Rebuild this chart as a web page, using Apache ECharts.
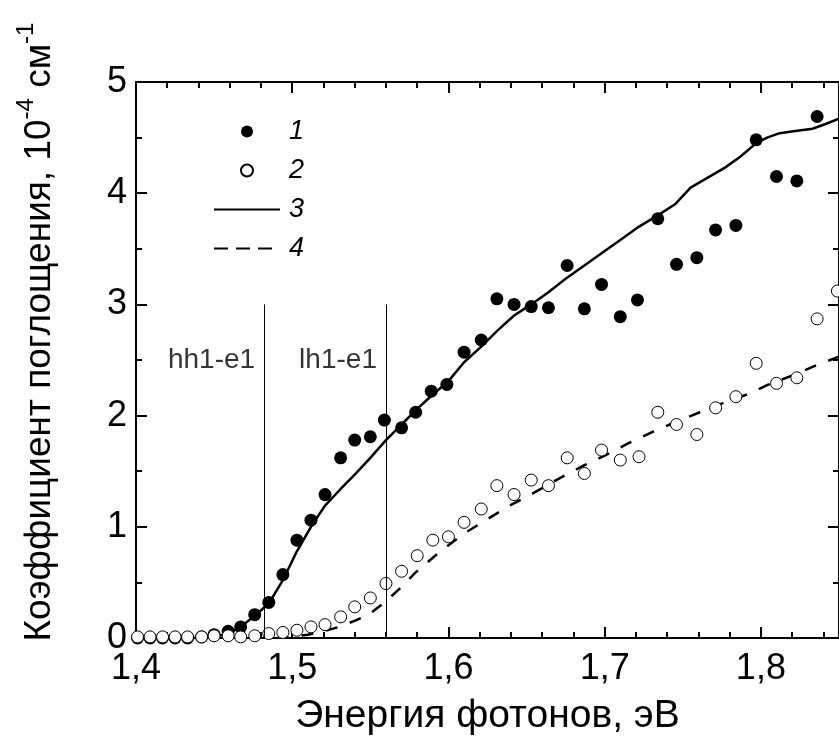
<!DOCTYPE html>
<html><head><meta charset="utf-8">
<script src="https://cdn.jsdelivr.net/npm/echarts@6/dist/echarts.min.js"></script>
<style>html,body{margin:0;padding:0;background:#fff;}#c{width:839px;height:751px;}</style>
</head><body><div id="c"></div>
<script>
// Series 1 (filled circles)
const s1x = [1.401,1.409,1.417,1.425,1.433,1.442,1.450,1.459,1.467,1.476,1.485,1.494,1.503,1.512,1.521,1.531,1.540,1.550,1.559,1.570,1.579,1.589,1.599,1.610,1.621,1.631,1.642,1.653,1.664,1.676,1.687,1.698,1.710,1.721,1.734,1.746,1.759,1.771,1.784,1.797,1.810,1.823,1.836];
const s1y = [0,0,0,0,0,0.01,0.03,0.06,0.10,0.21,0.32,0.57,0.88,1.06,1.29,1.62,1.78,1.81,1.96,1.89,2.03,2.22,2.28,2.57,2.68,3.05,3.00,2.98,2.97,3.35,2.96,3.18,2.89,3.04,3.77,3.36,3.42,3.67,3.71,4.48,4.15,4.11,4.69];
// Series 2 (open circles)
const s2x = [1.401,1.409,1.417,1.425,1.433,1.442,1.450,1.459,1.467,1.476,1.485,1.494,1.503,1.512,1.521,1.531,1.540,1.550,1.560,1.570,1.580,1.590,1.600,1.610,1.621,1.631,1.642,1.653,1.664,1.676,1.687,1.698,1.710,1.722,1.734,1.746,1.759,1.771,1.784,1.797,1.810,1.823,1.836,1.849];
const s2y = [0.01,0.01,0.01,0.01,0.01,0.01,0.02,0.02,0.01,0.02,0.04,0.05,0.07,0.10,0.12,0.19,0.28,0.36,0.49,0.60,0.74,0.88,0.91,1.04,1.16,1.37,1.29,1.42,1.37,1.62,1.48,1.69,1.60,1.63,2.03,1.92,1.83,2.07,2.17,2.47,2.29,2.34,2.87,3.12];
// Curve 3 (solid)
const l3x = [1.40,1.44,1.45,1.459,1.467,1.476,1.485,1.494,1.503,1.512,1.521,1.531,1.540,1.550,1.560,1.570,1.580,1.590,1.600,1.610,1.621,1.631,1.642,1.653,1.664,1.675,1.687,1.698,1.710,1.722,1.735,1.745,1.755,1.766,1.777,1.787,1.797,1.804,1.812,1.822,1.833,1.841,1.85];
const l3y = [0,0,0.01,0.04,0.10,0.20,0.31,0.52,0.78,1.00,1.19,1.34,1.47,1.62,1.78,1.92,2.06,2.19,2.31,2.48,2.62,2.76,2.90,3.00,3.11,3.23,3.35,3.46,3.58,3.70,3.81,3.90,4.05,4.14,4.23,4.33,4.45,4.50,4.54,4.56,4.58,4.62,4.67];
// Curve 4 (dashed)
const l4x = [1.49,1.50,1.51,1.52,1.53,1.541,1.549,1.56,1.57,1.579,1.594,1.61,1.624,1.639,1.654,1.669,1.685,1.70,1.715,1.73,1.745,1.761,1.777,1.791,1.805,1.82,1.835,1.85];
const l4y = [0,0.01,0.03,0.06,0.10,0.16,0.21,0.33,0.46,0.59,0.77,0.94,1.06,1.19,1.30,1.42,1.54,1.64,1.75,1.85,1.94,2.03,2.12,2.19,2.28,2.36,2.45,2.53];
// Legend names
const seriesNames = ['1','2','3','4'];
// Transition markers
const transX = [1.482, 1.56];
const transLabels = ['hh1-e1','lh1-e1'];
const transTop = 3;
const transLabelY = 2.5;
// Axis titles
const xTitle = 'Энергия фотонов, эВ';
const yTitleMain = 'Коэффициент поглощения, 10';

const FF = '"Liberation Sans", Arial, sans-serif';
const zip = (a,b) => a.map((v,i)=>[v,b[i]]);

const chart = echarts.init(document.getElementById('c'), null, {renderer:'canvas'});
const baseX = {type:'value', min:1.4, max:1.85, gridIndex:0, splitLine:{show:false}};
const tickStyle = {color:'#000', width:2};
const noMarker = {color:'rgba(0,0,0,0)', borderWidth:0, borderColor:'rgba(0,0,0,0)'};
chart.setOption({
  animation:false,
  backgroundColor:'#fff',
  grid:{left:136, top:82, width:704, height:556},
  xAxis:[
    Object.assign({}, baseX, {position:'bottom', interval:0.1,
      axisLine:{show:true, lineStyle:{color:'#000', width:2}},
      axisTick:{show:true, inside:true, length:11, lineStyle:tickStyle},
      axisLabel:{show:true, showMaxLabel:false, color:'#000', fontSize:36, fontFamily:FF, margin:13,
        formatter: v => (Math.abs(v*10 - Math.round(v*10))<1e-6) ? v.toFixed(1).replace('.',',') : ''},
      name:xTitle, nameLocation:'middle', nameGap:59,
      nameTextStyle:{color:'#000', fontSize:39, fontFamily:FF}}),
    Object.assign({}, baseX, {position:'bottom', interval:0.02,
      axisLine:{show:false}, axisTick:{show:true, inside:true, length:6, lineStyle:tickStyle}, axisLabel:{show:false}}),
    Object.assign({}, baseX, {position:'top', interval:0.1,
      axisLine:{show:true, lineStyle:{color:'#000', width:2}},
      axisTick:{show:true, inside:true, length:11, lineStyle:tickStyle}, axisLabel:{show:false}}),
    Object.assign({}, baseX, {position:'top', interval:0.02,
      axisLine:{show:false}, axisTick:{show:true, inside:true, length:6, lineStyle:tickStyle}, axisLabel:{show:false}})
  ],
  yAxis:[
    {type:'value', min:0, max:5, interval:1, position:'left', splitLine:{show:false},
      axisLine:{show:true, lineStyle:{color:'#000', width:2}},
      axisTick:{show:true, inside:true, length:11, lineStyle:tickStyle},
      minorTick:{show:true, splitNumber:2, length:6, lineStyle:tickStyle},
      axisLabel:{color:'#000', fontSize:36, fontFamily:FF, margin:9},
      name:'{a|'+yTitleMain+'}{s|-4}{a| см}{s|-1}', nameLocation:'middle', nameRotate:90, nameGap:78,
      nameTextStyle:{padding:[0,0,0,56], rich:{
        a:{fontSize:37, fontFamily:FF, color:'#000', lineHeight:44, verticalAlign:'bottom'},
        s:{fontSize:24, fontFamily:FF, color:'#000', lineHeight:44, verticalAlign:'top'}}}},
    {type:'value', min:0, max:5, interval:1, position:'right', splitLine:{show:false},
      axisLine:{show:true, lineStyle:{color:'#000', width:2}},
      axisTick:{show:true, inside:true, length:11, lineStyle:tickStyle},
      minorTick:{show:true, splitNumber:2, length:6, lineStyle:tickStyle},
      axisLabel:{show:false}}
  ],
  legend:{
    orient:'vertical', left:208, top:113, itemWidth:66, itemHeight:12, itemGap:12,
    textStyle:{color:'#000', fontSize:27, fontStyle:'italic', fontFamily:FF, lineHeight:26, padding:[0,0,0,4]},
    data:[{name:seriesNames[0]},{name:seriesNames[1]},
          {name:seriesNames[2], itemStyle:noMarker},
          {name:seriesNames[3], itemStyle:noMarker, lineStyle:{type:[14,8]}}]
  },
  series:[
    {name:'annot', type:'scatter', symbolSize:0, silent:true, z:1,
      data: transX.map((x,i)=>[x, transLabelY, transLabels[i]]),
      label:{show:true, position:'left', distance:9, color:'#000', fontSize:28, fontFamily:FF,
        formatter: p => p.data[2]},
      markLine:{silent:true, symbol:'none', label:{show:false},
        lineStyle:{color:'#000', width:1, type:'solid'},
        data: transX.map(x=>[{coord:[x,0]},{coord:[x,transTop]}])}},
    {name:seriesNames[2], type:'line', data:zip(l3x,l3y), symbol:'none', smooth:false, z:2,
      lineStyle:{color:'#000', width:2.5}, itemStyle:{color:'#000'}},
    {name:seriesNames[3], type:'line', data:zip(l4x,l4y), symbol:'none', smooth:false, z:2,
      lineStyle:{color:'#000', width:2.5, type:[12,13]}, itemStyle:{color:'#000'}},
    {name:seriesNames[0], type:'scatter', data:zip(s1x,s1y), symbol:'circle', symbolSize:13, z:3,
      itemStyle:{color:'#000', opacity:1}},
    {name:seriesNames[1], type:'scatter', data:zip(s2x,s2y), symbol:'circle', symbolSize:12, z:4,
      itemStyle:{color:'#fff', borderColor:'#000', borderWidth:1, opacity:1}}
  ]
});
</script></body></html>
